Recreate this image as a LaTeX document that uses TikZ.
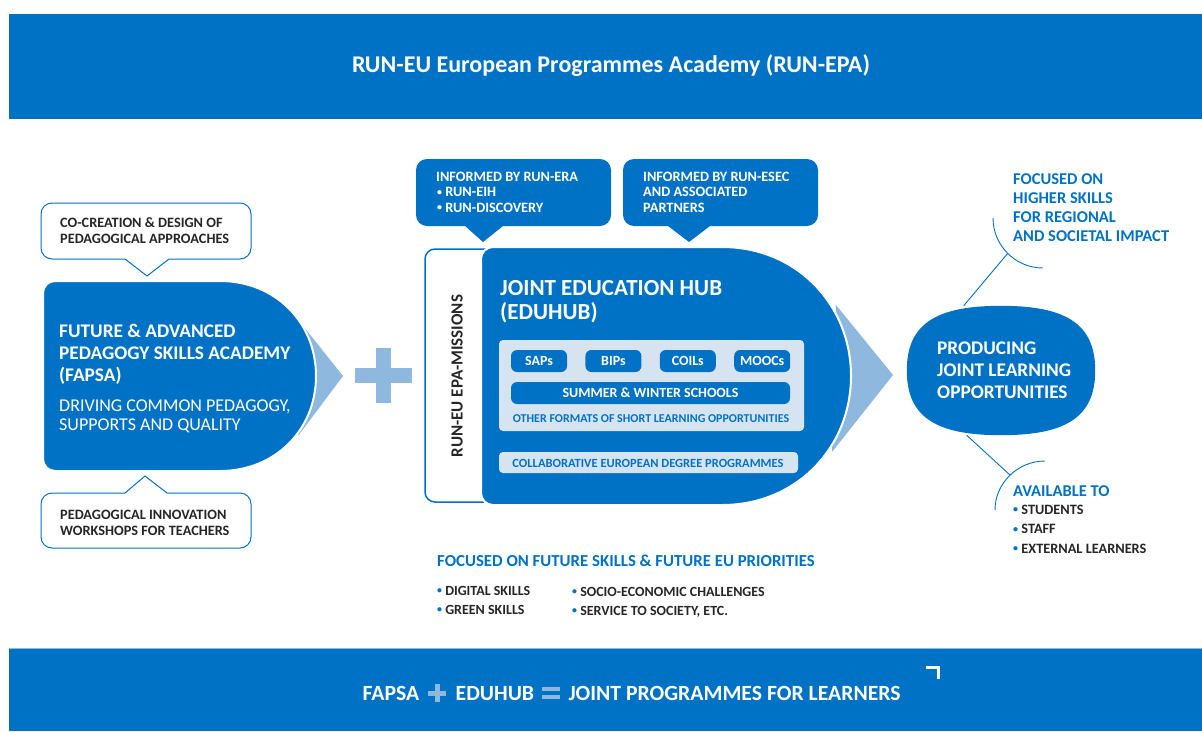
\documentclass[tikz,border=0pt]{standalone}
\usepackage{fontspec}
\setmainfont{Carlito}
\usetikzlibrary{positioning}
\usetikzlibrary{calc}

\definecolor{runblue}{RGB}{0,114,198}
\definecolor{chevblue}{RGB}{143,184,222}
\definecolor{paleblue}{RGB}{214,228,242}
\definecolor{darktext}{RGB}{38,38,38}

\newcommand{\smalldot}{\raisebox{0.1em}{\scalebox{0.7}{\textbullet}}}
\newcommand{\bluedot}{{\color{runblue}\smalldot}}

\begin{document}
\begin{tikzpicture}[x=1pt, y=-1pt,
    banner/.style={fill=runblue, draw=none},
    whitetxt/.style={text=white, inner sep=0pt, anchor=base west, align=left},
    darktxt/.style={text=darktext, inner sep=0pt, anchor=base west, align=left},
    bluetxt/.style={text=runblue, inner sep=0pt, anchor=base west, align=left},
    pill/.style={fill=runblue, rounded corners=6pt, text=white, inner sep=0pt,
        font=\fontsize{14}{16}\selectfont\bfseries},
    bubble/.style={draw=runblue, fill=white, line width=1pt},
    bluebubble/.style={fill=runblue},
    hubshape/.style={fill=runblue, draw=white, line width=2pt},
    brace/.style={draw=runblue, line width=0.9pt}
]
    \useasboundingbox (0,0) rectangle (1202,731);

    % Top banner
    \fill[banner] (9,14) rectangle (1202,119);
    \node[text=white, inner sep=0pt, font=\fontsize{24}{28}\selectfont\bfseries] (title) at (611,66) {RUN-EU European Programmes Academy (RUN-EPA)};

    % Bottom banner
    \fill[banner] (9,648) rectangle (1202,731);
    \draw[chevblue, line width=1pt] (9,648) -- (1202,648);
    \node[whitetxt, anchor=base, font=\fontsize{21.7}{25}\selectfont\bfseries] (B1) at (391,700) {FAPSA};
    \node[whitetxt, anchor=base, font=\fontsize{21.7}{25}\selectfont\bfseries] (B2) [right=36pt of B1.base east, anchor=base west] {EDUHUB};
    \node[whitetxt, anchor=base, font=\fontsize{21.7}{25}\selectfont\bfseries] (B3) [right=34pt of B2.base east, anchor=base west] {JOINT PROGRAMMES FOR LEARNERS};
    \coordinate (P1) at ($(B1.east)!0.5!(B2.west)$);
    \fill[chevblue] ($(P1)+(-9,-2.5)$) rectangle ($(P1)+(9,2.5)$);
    \fill[chevblue] ($(P1)+(-2.5,-9)$) rectangle ($(P1)+(2.5,9)$);
    \coordinate (E1) at ($(B2.east)!0.5!(B3.west)$);
    \fill[chevblue] ($(E1)+(-9,-6)$) rectangle ($(E1)+(9,-2)$);
    \fill[chevblue] ($(E1)+(-9,2)$) rectangle ($(E1)+(9,6)$);
    \draw[white, line width=3pt] (926,667.5) -- (938.5,667.5) -- (938.5,679);

    % FAPSA block
    \fill[chevblue] (300,322) -- (343,376) -- (298,436) -- cycle;
    \path[hubshape] (220,471) [rounded corners=12pt] -- (43,471) -- (43,281) [sharp corners] -- (220,281)
        .. controls (275,281) and (316,322) .. (316,376)
        .. controls (316,430) and (275,471) .. (220,471) -- cycle;
    \node[whitetxt, font=\fontsize{19.3}{22}\selectfont\bfseries] (F1) at (59,381) {FUTURE \& ADVANCED\\PEDAGOGY SKILLS ACADEMY\\(FAPSA)};
    \node[whitetxt, font=\fontsize{18}{19}\selectfont] (F2) at (59,430) {DRIVING COMMON PEDAGOGY,\\SUPPORTS AND QUALITY};

    % Callouts round FAPSA
    \path[bubble] (125,259) -- (147,276) -- (169,259) [rounded corners=11pt] -- (251,259) -- (251,203) -- (41,203) -- (41,259) [sharp corners] -- cycle;
    \node[darktxt, font=\fontsize{14.3}{16}\selectfont\bfseries] (C1) at (60,243) {CO-CREATION \& DESIGN OF\\PEDAGOGICAL APPROACHES};
    \path[bubble] (125,493) -- (145,476) -- (167,493) [rounded corners=11pt] -- (251,493) -- (251,548) -- (41,548) -- (41,493) [sharp corners] -- cycle;
    \node[darktxt, font=\fontsize{14.3}{16}\selectfont\bfseries] (C2) at (60,535) {PEDAGOGICAL INNOVATION\\WORKSHOPS FOR TEACHERS};

    % Plus
    \fill[chevblue] (355,368) rectangle (412,383);
    \fill[chevblue] (376,348) rectangle (391,403);

    % Missions box
    \draw[runblue, fill=white, line width=1.5pt, rounded corners=10pt] (510,249) -- (425,249) -- (425,502) -- (510,502);
    \node[text=darktext, inner sep=0pt, rotate=90, font=\fontsize{17}{19}\selectfont\bfseries] (M1) at (457,376) {RUN-EU EPA-MISSIONS};

    % EDUHUB block
    \fill[chevblue] (836,305) -- (893,375) -- (832,452) -- cycle;
    \path[hubshape] (722,505) [rounded corners=12pt] -- (481,505) -- (481,247) [sharp corners] -- (722,247)
        .. controls (797,247) and (851,305) .. (851,376)
        .. controls (851,447) and (797,505) .. (722,505) -- cycle;
    \node[whitetxt, font=\fontsize{23}{24}\selectfont\bfseries] (H1) at (500,319) {JOINT EDUCATION HUB\\(EDUHUB)};

    \fill[paleblue, rounded corners=4pt] (499,340) rectangle (804,431);
    \node[pill, minimum width=56pt, minimum height=22pt] (S1) at (539,361) {SAPs};
    \node[pill, minimum width=56pt, minimum height=22pt] (S2) [right=18pt of S1] {BIPs};
    \node[pill, minimum width=56pt, minimum height=22pt] (S3) [right=18pt of S2] {COILs};
    \node[pill, minimum width=56pt, minimum height=22pt] (S4) [right=18pt of S3] {MOOCs};
    \node[pill, minimum width=279pt, minimum height=22pt] (S5) at (650.5,393) {SUMMER \& WINTER SCHOOLS};
    \node[text=runblue, inner sep=0pt, font=\fontsize{12}{14}\selectfont\bfseries] (S6) at (651,419) {OTHER FORMATS OF SHORT LEARNING OPPORTUNITIES};
    \fill[paleblue, rounded corners=4pt] (499,452) rectangle (798,473);
    \node[text=runblue, inner sep=0pt, font=\fontsize{12.5}{14}\selectfont\bfseries] (S7) at (648,463) {COLLABORATIVE EUROPEAN DEGREE PROGRAMMES};

    % Informed by
    \path[bluebubble] (465,226) -- (483,242) -- (503,226) [rounded corners=11pt] -- (611,226) -- (611,159) -- (416,159) -- (416,226) [sharp corners] -- cycle;
    \node[whitetxt, font=\fontsize{14.3}{15.5}\selectfont\bfseries] (I1) at (436,212) {INFORMED BY RUN-ERA\\\hspace*{1pt}\smalldot\ RUN-EIH\\\hspace*{1pt}\smalldot\ RUN-DISCOVERY};
    \path[bluebubble] (668,226) -- (689,242) -- (710,226) [rounded corners=11pt] -- (818,226) -- (818,159) -- (623,159) -- (623,226) [sharp corners] -- cycle;
    \node[whitetxt, font=\fontsize{14.3}{15.5}\selectfont\bfseries] (I2) at (643,212) {INFORMED BY RUN-ESEC\\AND ASSOCIATED\\PARTNERS};

    % Future skills
    \node[bluetxt, font=\fontsize{16.8}{19}\selectfont\bfseries] (U1) at (437,566) {FOCUSED ON FUTURE SKILLS \& FUTURE EU PRIORITIES};
    \node[darktxt, font=\fontsize{14}{19}\selectfont\bfseries] (U2) at (437,614) {\bluedot\ DIGITAL SKILLS\\\bluedot\ GREEN SKILLS};
    \node[darktxt, font=\fontsize{14}{19}\selectfont\bfseries] (U3) at (572,615) {\bluedot\ SOCIO-ECONOMIC CHALLENGES\\\bluedot\ SERVICE TO SOCIETY, ETC.};

    % Producing joint learning opportunities
    \node[minimum width=188pt, minimum height=129pt, inner sep=0pt] (prod) at (1001,370.5) {};
    \fill[runblue] (prod.west) .. controls ($(prod.west)+(0,-46)$) and ($(prod.north)+(-66,0)$) .. (prod.north)
        .. controls ($(prod.north)+(66,0)$) and ($(prod.east)+(0,-46)$) .. (prod.east)
        .. controls ($(prod.east)+(0,46)$) and ($(prod.south)+(66,0)$) .. (prod.south)
        .. controls ($(prod.south)+(-66,0)$) and ($(prod.west)+(0,46)$) .. (prod.west) -- cycle;
    \node[whitetxt, font=\fontsize{19.3}{22}\selectfont\bfseries] (R1) at (937,398) {PRODUCING\\JOINT LEARNING\\OPPORTUNITIES};

    \coordinate (T1) at (1008,253);
    \draw[brace] (993,218) .. controls (993,245.6) and (1015.4,268) .. (1043,268);
    \draw[brace] (prod.120) -- (T1);
    \node[bluetxt, font=\fontsize{16.5}{19}\selectfont\bfseries] (R2) at (1013,241) {FOCUSED ON\\HIGHER SKILLS\\FOR REGIONAL\\AND SOCIETAL IMPACT};

    \coordinate (T2) at (1010,475);
    \draw[brace] (1045,461) .. controls (1017.4,461) and (995,483.4) .. (995,510);
    \draw[brace] (prod.-118) -- (T2);
    \node[bluetxt, font=\fontsize{16.5}{19}\selectfont\bfseries] (R3) at (1013,496) {AVAILABLE TO};
    \node[darktxt, font=\fontsize{14.3}{19.5}\selectfont\bfseries] (R4) at (1013,553) {\bluedot\ STUDENTS\\\bluedot\ STAFF\\\bluedot\ EXTERNAL LEARNERS};
\end{tikzpicture}
\end{document}
